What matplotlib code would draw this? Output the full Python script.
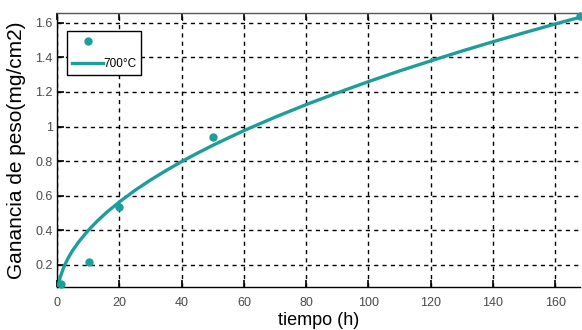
import matplotlib
matplotlib.use("Agg")
import matplotlib.pyplot as plt

# measured points (h, mg/cm2)
t_pts = [1.2, 10.2, 20, 50, 168]
w_pts = [0.09, 0.215, 0.535, 0.94, 1.64]

# fitted curve
t_fit = [0.4, 1, 2, 3, 4, 5, 7, 10, 13, 16, 20, 25, 30, 35, 40, 45, 50, 55, 60,
         70, 80, 90, 100, 110, 120, 130, 140, 150, 160, 168]
w_fit = [0.08, 0.126, 0.178, 0.218, 0.252, 0.282, 0.333, 0.398, 0.454, 0.504,
         0.563, 0.630, 0.690, 0.745, 0.797, 0.845, 0.891, 0.934, 0.976,
         1.054, 1.127, 1.195, 1.260, 1.322, 1.380, 1.437, 1.491, 1.543, 1.594, 1.633]

teal = '#1d9e9b'
tick_col = '#4a4a4a'

plt.rcParams['font.family'] = ['Liberation Sans', 'DejaVu Sans']

fig = plt.figure(figsize=(5.82, 3.30), dpi=100)
ax = fig.add_axes([0.098, 0.130, 0.899, 0.832])

sc, = ax.plot(t_pts, w_pts, 'o', color=teal, ms=5, clip_on=False, zorder=4)
ln, = ax.plot(t_fit, w_fit, '-', color=teal, lw=2.4, zorder=3)

ax.set_xlim(0, 168)
ax.set_ylim(0.07, 1.66)
ax.set_xticks([0, 20, 40, 60, 80, 100, 120, 140, 160])
ax.set_yticks([0.2, 0.4, 0.6, 0.8, 1, 1.2, 1.4, 1.6])
ax.set_yticklabels(['0.2', '0.4', '0.6', '0.8', '1', '1.2', '1.4', '1.6'])

ax.grid(True, color='black', linestyle=(0, (3, 3)), linewidth=1.0)
ax.tick_params(direction='in', length=5, width=1.2, top=True, right=False,
               labelsize=9, colors='black', labelcolor=tick_col)
ax.tick_params(axis='x', pad=7)
ax.tick_params(axis='y', pad=3)
for s in ax.spines.values():
    s.set_linewidth(1.0)
ax.spines['right'].set_visible(False)
ax.spines['top'].set_color('#555555')

ax.set_xlabel('tiempo (h)', fontsize=13, labelpad=2)
ax.set_ylabel('Ganancia de peso(mg/cm2)', fontsize=15, labelpad=0)
ax.yaxis.set_label_coords(-0.06, 0.5)

leg = ax.legend([sc, ln], ['', '700°C'], loc='upper left',
                bbox_to_anchor=(0.012, 0.945), fontsize=8.5,
                fancybox=False, framealpha=1, edgecolor='black',
                handlelength=2.6, borderpad=0.45, labelspacing=0.8,
                handletextpad=0.0, borderaxespad=0.3)
leg.get_frame().set_linewidth(1.0)

fig.savefig('out.png', dpi=100)
